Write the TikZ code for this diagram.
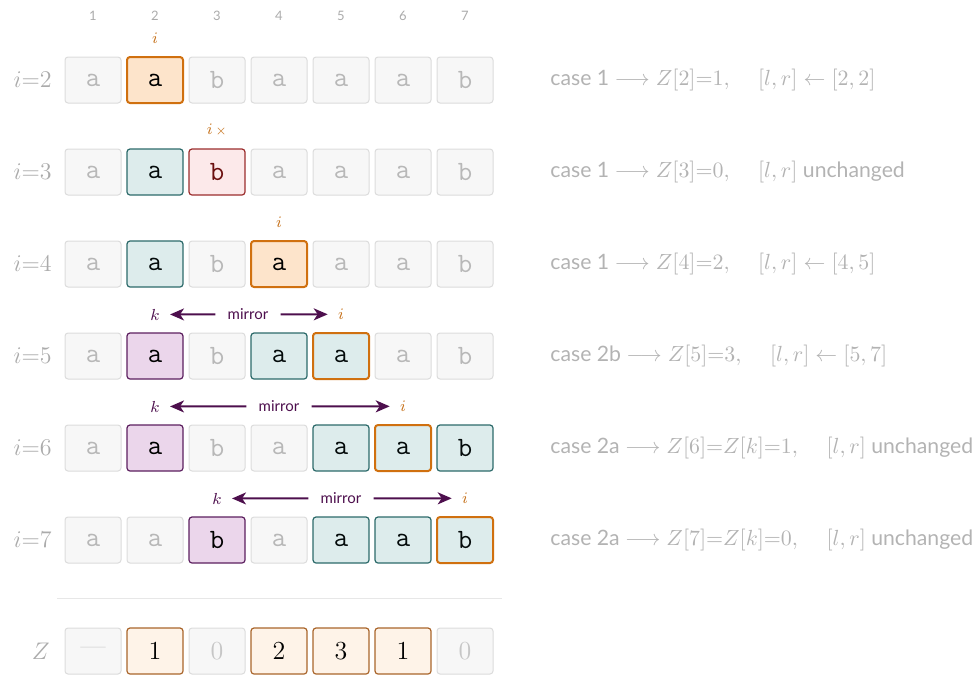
\documentclass[tikz,border=0pt]{standalone}
\usepackage{fontspec}
\setsansfont{Lato}
\usetikzlibrary{positioning,calc,arrows.meta}

\definecolor{offfill}{HTML}{F7F7F7}
\definecolor{offline}{HTML}{DCDCDC}
\definecolor{offtext}{HTML}{B8B8B8}
\definecolor{curfill}{HTML}{FDE4CB}
\definecolor{curline}{HTML}{D0700F}
\definecolor{zfill}{HTML}{DDECEC}
\definecolor{zline}{HTML}{2C6A6A}
\definecolor{badfill}{HTML}{FCE9EA}
\definecolor{badline}{HTML}{9B2D2D}
\definecolor{badtext}{HTML}{6B0F0F}
\definecolor{kfill}{HTML}{EBD6EB}
\definecolor{kline}{HTML}{5C1F5F}
\definecolor{mirrorc}{HTML}{4D0F4D}
\definecolor{valfill}{HTML}{FEF3E8}
\definecolor{valline}{HTML}{A9652B}
\definecolor{labelgray}{HTML}{ABABAB}
\definecolor{notegray}{HTML}{B3B3B3}
\definecolor{imarkc}{HTML}{C6721C}

\tikzset{
  cell/.style={draw=offline, fill=offfill, rounded corners=1.5pt, line width=0.5pt,
    minimum width=28pt, minimum height=23pt, inner sep=0pt, text=offtext,
    font=\ttfamily\fontsize{14}{14}\selectfont},
  off/.style={},
  cur/.style={draw=curline, fill=curfill, line width=1pt, text=black},
  zbox/.style={draw=zline, fill=zfill, line width=0.6pt, text=black!90!zline},
  curz/.style={draw=curline, fill=zfill, line width=1pt, text=black!90!zline},
  bad/.style={draw=badline, fill=badfill, line width=0.6pt, text=badtext},
  kbox/.style={draw=kline, fill=kfill, line width=0.6pt, text=black},
  val/.style={draw=valline, fill=valfill, line width=0.6pt, text=black,
    font=\fontsize{13}{13}\selectfont},
  empty/.style={font=\fontsize{13}{13}\selectfont, text=offtext!80},
  colnum/.style={font=\sffamily\fontsize{6.5}{7}\selectfont, text=labelgray},
  rowlab/.style={anchor=east, inner sep=0pt, font=\fontsize{12}{14}\selectfont, text=labelgray},
  note/.style={anchor=west, inner sep=0pt, font=\sffamily\fontsize{10.6}{12}\selectfont, text=notegray},
  imark/.style={inner sep=2pt, font=\fontsize{8}{9}\selectfont, text=imarkc},
  kmark/.style={inner sep=2pt, font=\fontsize{8.5}{9}\selectfont, text=mirrorc},
  mirror/.style={inner xsep=6pt, inner ysep=1pt, font=\sffamily\fontsize{7.5}{8}\selectfont, text=mirrorc},
  mirrorline/.style={mirrorc, line width=1pt, -{Stealth[length=7pt,width=6pt,inset=2pt]}, shorten >=3pt}
}

\begin{document}
\begin{tikzpicture}[x=0.5pt, y=-0.5pt]
    \useasboundingbox (0,0) rectangle (977,677);

    % column numbers
    \foreach \c in {1,...,7}
        \node[colnum] (n\c) at (31+62*\c,16) {\c};

    % i = 2
    \node[rowlab] (lab2) at (52,80) {$i{=}2$};
    \foreach \c/\ch/\st in {1/a/off,2/a/cur,3/b/off,4/a/off,5/a/off,6/a/off,7/b/off}
        \node[cell,\st] (c2-\c) at (31+62*\c,80) {\ch};
    \node[imark, above=4pt of c2-2] (i2) {$i$};
    \node[note] (case2) at (550,80) {case 1 $\longrightarrow Z[2]{=}1,\quad\, [l,r]\leftarrow[2,2]$};

    % i = 3
    \node[rowlab] (lab3) at (52,172) {$i{=}3$};
    \foreach \c/\ch/\st in {1/a/off,2/a/zbox,3/b/bad,4/a/off,5/a/off,6/a/off,7/b/off}
        \node[cell,\st] (c3-\c) at (31+62*\c,172) {\ch};
    \node[imark, above=4pt of c3-3] (i3) {$i$\,{\fontsize{6}{6}\selectfont$\times$}};
    \node[note] (case3) at (550,172) {case 1 $\longrightarrow Z[3]{=}0,\quad\, [l,r]$ unchanged};

    % i = 4
    \node[rowlab] (lab4) at (52,264) {$i{=}4$};
    \foreach \c/\ch/\st in {1/a/off,2/a/zbox,3/b/off,4/a/cur,5/a/off,6/a/off,7/b/off}
        \node[cell,\st] (c4-\c) at (31+62*\c,264) {\ch};
    \node[imark, above=4pt of c4-4] (i4) {$i$};
    \node[note] (case4) at (550,264) {case 1 $\longrightarrow Z[4]{=}2,\quad\, [l,r]\leftarrow[4,5]$};

    % i = 5
    \node[rowlab] (lab5) at (52,356) {$i{=}5$};
    \foreach \c/\ch/\st in {1/a/off,2/a/kbox,3/b/off,4/a/zbox,5/a/curz,6/a/off,7/b/off}
        \node[cell,\st] (c5-\c) at (31+62*\c,356) {\ch};
    \node[kmark, above=4pt of c5-2] (k5) {$k$};
    \node[imark, above=4pt of c5-5] (i5) {$i$};
    \node[mirror] (m5) at ($(k5)!0.5!(i5)$) {mirror};
    \draw[mirrorline] (m5) -- (k5);
    \draw[mirrorline] (m5) -- (i5);
    \node[note] (case5) at (550,356) {case 2b $\longrightarrow Z[5]{=}3,\quad\, [l,r]\leftarrow[5,7]$};

    % i = 6
    \node[rowlab] (lab6) at (52,448) {$i{=}6$};
    \foreach \c/\ch/\st in {1/a/off,2/a/kbox,3/b/off,4/a/off,5/a/zbox,6/a/curz,7/b/zbox}
        \node[cell,\st] (c6-\c) at (31+62*\c,448) {\ch};
    \node[kmark, above=4pt of c6-2] (k6) {$k$};
    \node[imark, above=4pt of c6-6] (i6) {$i$};
    \node[mirror] (m6) at ($(k6)!0.5!(i6)$) {mirror};
    \draw[mirrorline] (m6) -- (k6);
    \draw[mirrorline] (m6) -- (i6);
    \node[note] (case6) at (550,448) {case 2a $\longrightarrow Z[6]{=}Z[k]{=}1,\quad\, [l,r]$ unchanged};

    % i = 7
    \node[rowlab] (lab7) at (52,540) {$i{=}7$};
    \foreach \c/\ch/\st in {1/a/off,2/a/off,3/b/kbox,4/a/off,5/a/zbox,6/a/zbox,7/b/curz}
        \node[cell,\st] (c7-\c) at (31+62*\c,540) {\ch};
    \node[kmark, above=4pt of c7-3] (k7) {$k$};
    \node[imark, above=4pt of c7-7] (i7) {$i$};
    \node[mirror] (m7) at ($(k7)!0.5!(i7)$) {mirror};
    \draw[mirrorline] (m7) -- (k7);
    \draw[mirrorline] (m7) -- (i7);
    \node[note] (case7) at (550,540) {case 2a $\longrightarrow Z[7]{=}Z[k]{=}0,\quad\, [l,r]$ unchanged};

    \draw[offline!70, line width=0.5pt] (57,598) -- (502,598);

    % Z array
    \node[rowlab] (labz) at (50,651) {$Z$};
    \foreach \c/\ch/\st in {1/\textemdash/empty,2/1/val,3/0/empty,4/2/val,5/3/val,6/1/val,7/0/empty}
        \node[cell,\st] (z\c) at (31+62*\c,651) {\ch};
\end{tikzpicture}
\end{document}
